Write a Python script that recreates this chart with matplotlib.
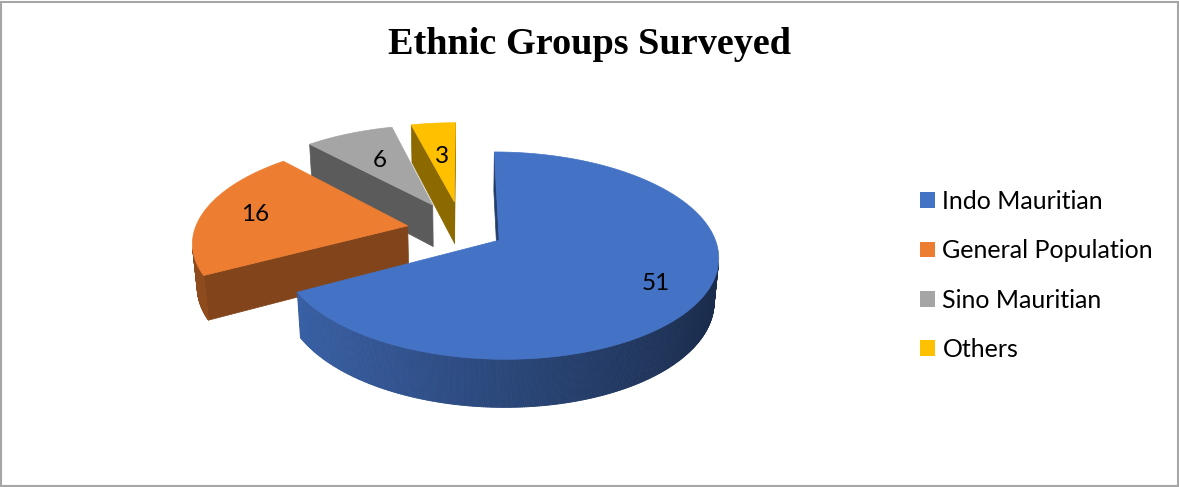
import numpy as np
import matplotlib
matplotlib.use("Agg")
import matplotlib.pyplot as plt
from matplotlib.patches import Polygon, Rectangle, Patch
from matplotlib.collections import PolyCollection
from matplotlib.colors import to_rgb

# ---- data ----
labels = ["Indo Mauritian", "General Population", "Sino Mauritian", "Others"]
values = [51, 16, 6, 3]
colors = ["#4472C4", "#ED7D31", "#A5A5A5", "#FFC000"]
explode = [0.20, 0.26, 0.30, 0.30]
label_r = [0.78, 0.75, 0.60, 0.55]
side_max = [0.9, 0.6, 0.55, 0.55]   # brightest shade of each slice's rim

W, H = 1179, 487
fig = plt.figure(figsize=(W / 100, H / 100), dpi=100)
ax = fig.add_axes([0, 0, 1, 1])
ax.set_xlim(0, W); ax.set_ylim(H, 0); ax.axis("off")

# ---- simple perspective 3D pie ----
cx, cy, R = 462, 230, 213
elev = np.radians(27.5); dist = 6.06; thick = 0.23
cam = np.array([0, -dist * np.cos(elev), dist * np.sin(elev)])

def proj(X, Y, Z):
    up = Y * np.sin(elev) + Z * np.cos(elev)
    d = Y * np.cos(elev) - Z * np.sin(elev)
    s = dist / (dist + d)
    return np.column_stack([cx + R * X * s, cy - R * up * s])

def shade(c, k):
    return tuple(np.clip(np.array(to_rgb(c)) * k, 0, 1))

tot = sum(values)
edges = np.concatenate([[0], np.cumsum(values)]) / tot * 2 * np.pi
slices = []
for i, v in enumerate(values):
    t0, t1 = edges[i], edges[i + 1]
    tm = (t0 + t1) / 2
    o = explode[i] * np.array([np.sin(tm), np.cos(tm)])
    slices.append((i, t0, t1, tm, o))

# back to front
for i, t0, t1, tm, o in sorted(slices, key=lambda s: -s[4][1]):
    col = colors[i]
    th = np.linspace(t0, t1, max(int(np.degrees(t1 - t0) * 2), 4))
    rx, ry = o[0] + np.sin(th), o[1] + np.cos(th)
    # radial walls
    for t, sgn in ((t0, -1), (t1, 1)):
        n = sgn * np.array([np.cos(t), -np.sin(t), 0])
        P = np.array([o[0], o[1], 0])
        if np.dot(cam - P, n) > 0:
            X = [o[0], o[0] + np.sin(t), o[0] + np.sin(t), o[0]]
            Y = [o[1], o[1] + np.cos(t), o[1] + np.cos(t), o[1]]
            Z = [0, 0, -thick, -thick]
            ax.add_patch(Polygon(proj(np.array(X), np.array(Y), np.array(Z)),
                                 closed=True, fc=shade(col, 0.55), ec=shade(col, 0.55), lw=0.5))
    # curved wall
    quads, fcs = [], []
    for j in range(len(th) - 1):
        tt = (th[j] + th[j + 1]) / 2
        n = np.array([np.sin(tt), np.cos(tt), 0])
        P = np.array([o[0] + n[0], o[1] + n[1], 0])
        if np.dot(cam - P, n) <= 0:
            continue
        X = np.array([rx[j], rx[j + 1], rx[j + 1], rx[j]])
        Y = np.array([ry[j], ry[j + 1], ry[j + 1], ry[j]])
        Z = np.array([0, 0, -thick, -thick])
        quads.append(proj(X, Y, Z))
        fcs.append(shade(col, np.clip(0.62 - 0.25 * n[0], 0.38, side_max[i])))
    if quads:
        ax.add_collection(PolyCollection(quads, facecolors=fcs, edgecolors=fcs, linewidths=0.6))
    # top face
    X = np.concatenate([[o[0]], rx]); Y = np.concatenate([[o[1]], ry])
    ax.add_patch(Polygon(proj(X, Y, np.zeros_like(X)), closed=True, fc=col, ec=col, lw=0.5))

# value labels
for i, t0, t1, tm, o in slices:
    p = proj(np.array([o[0] + label_r[i] * np.sin(tm)]),
             np.array([o[1] + label_r[i] * np.cos(tm)]), np.array([0.0]))[0]
    ax.text(p[0], p[1], str(values[i]), ha="center", va="center",
            fontsize=17.5, family="Lato", color="black")

ax.text(W / 2, 45, "Ethnic Groups Surveyed", ha="center", va="center",
        fontsize=27.5, fontweight="bold", family="Liberation Serif")

handles = [Patch(fc=c, ec="none") for c in colors]
fig.legend(handles, labels, loc="upper left", bbox_to_anchor=(920 / W, 1 - 190 / H),
           frameon=False, prop={"family": "Lato", "size": 18},
           handlelength=0.6, handleheight=0.6, handletextpad=0.3, labelspacing=1.05,
           borderaxespad=0, borderpad=0)

fig.add_artist(Rectangle((1 / W, 1 / H), (W - 2.5) / W, (H - 3) / H, transform=fig.transFigure,
                         fill=False, ec="#A6A6A6", lw=1.5))

fig.savefig("out.png", dpi=100)
